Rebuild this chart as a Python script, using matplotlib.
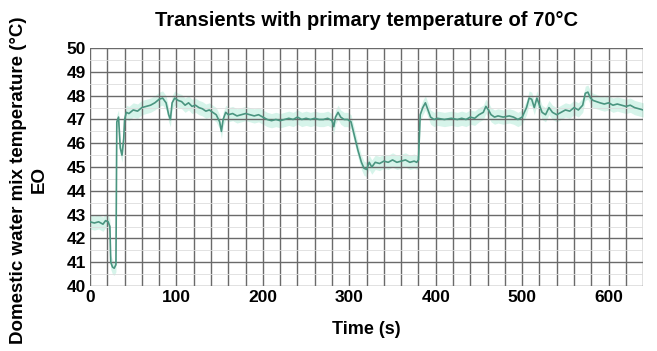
import matplotlib.pyplot as plt
import numpy as np

plt.rcParams['font.family'] = ['Liberation Sans', 'DejaVu Sans']
plt.rcParams['font.weight'] = 'bold'

# time (s) and mixed water temperature (°C)
time_s = [0, 5, 10, 15, 18, 21, 23, 24, 26, 28, 30, 31, 33, 35, 37, 39, 40, 42, 45,
          50, 55, 60, 65, 70, 75, 80, 84, 88, 91, 93, 95, 98, 102, 106, 110, 114,
          118, 122, 126, 130, 134, 138, 142, 146, 150, 152, 154, 157, 160, 165,
          170, 175, 180, 185, 190, 195, 200, 205, 210, 215, 220, 225, 230, 235,
          240, 245, 250, 255, 260, 265, 270, 275, 280, 282, 284, 287, 290, 294,
          298, 302, 306, 310, 314, 317, 320, 323, 326, 330, 335, 340, 345, 350,
          355, 360, 365, 370, 375, 378, 380, 382, 385, 388, 391, 394, 398, 402,
          410, 418, 425, 430, 435, 440, 445, 450, 455, 458, 461, 464, 468, 472,
          478, 485, 490, 495, 500, 505, 508, 511, 514, 517, 520, 523, 527, 531,
          535, 540, 545, 550, 555, 560, 565, 570, 573, 576, 579, 582, 586, 590,
          595, 600, 605, 610, 615, 620, 625, 630, 635, 640]
temp_c = [42.7, 42.65, 42.7, 42.6, 42.75, 42.7, 42.5, 41.0, 40.8, 40.75, 40.9, 46.9,
          47.1, 45.8, 45.5, 46.2, 47.0, 47.3, 47.25, 47.4, 47.35, 47.5, 47.55, 47.6,
          47.7, 47.85, 47.9, 47.7, 47.2, 47.0, 47.7, 47.9, 47.8, 47.75, 47.6, 47.7,
          47.55, 47.6, 47.5, 47.45, 47.35, 47.4, 47.3, 47.2, 46.9, 46.5, 47.0, 47.3,
          47.2, 47.25, 47.15, 47.2, 47.25, 47.2, 47.15, 47.2, 47.1, 47.0, 46.95,
          47.0, 46.95, 47.0, 47.05, 47.0, 47.1, 47.0, 47.05, 47.0, 47.05, 47.0,
          47.0, 47.05, 46.95, 46.7, 47.1, 47.3, 47.1, 47.0, 47.0, 46.9, 46.3, 45.7,
          45.2, 44.95, 44.9, 45.2, 45.0, 45.2, 45.15, 45.25, 45.2, 45.3, 45.2,
          45.25, 45.3, 45.2, 45.25, 45.2, 45.3, 47.2, 47.5, 47.7, 47.4, 47.1, 47.0,
          47.05, 47.0, 47.05, 47.0, 47.05, 47.0, 47.1, 47.05, 47.2, 47.3, 47.55,
          47.4, 47.2, 47.1, 47.15, 47.1, 47.15, 47.1, 47.0, 47.1, 47.5, 47.9, 47.85,
          47.5, 47.9, 47.6, 47.3, 47.2, 47.5, 47.3, 47.2, 47.3, 47.4, 47.35, 47.5,
          47.4, 47.6, 48.1, 48.15, 47.9, 47.8, 47.75, 47.7, 47.65, 47.7, 47.6,
          47.65, 47.6, 47.55, 47.6, 47.5, 47.45, 47.4]

x_ticks = [0, 100, 200, 300, 400, 500, 600]
y_ticks = [40, 41, 42, 43, 44, 45, 46, 47, 48, 49, 50]

t = np.array(time_s)
y = np.array(temp_c)

fig = plt.figure(figsize=(6.57, 3.51), dpi=100)
ax = fig.add_axes([0.137, 0.185, 0.842, 0.678])

# light halo around the trace
ax.fill_between(t, y - 0.3, y + 0.3, color='#d6f4ea', lw=0, zorder=1)
ax.plot(t, y, color='#4a9580', lw=1.2, zorder=3)

ax.set_xlim(0, 640)
ax.set_ylim(40, 50)
ax.set_xticks(x_ticks)
ax.set_yticks(y_ticks)
ax.set_xticks(np.arange(0, 641, 20), minor=True)
ax.set_yticks(np.arange(40, 50.1, 0.5), minor=True)
ax.tick_params(which='both', length=0, labelsize=12.5, pad=3)
ax.grid(which='major', color='#6a6a6a', lw=1.0, zorder=2)
ax.grid(which='minor', axis='x', color='#6a6a6a', lw=1.0, zorder=2)
ax.grid(which='minor', axis='y', color='#dddddd', lw=0.6, zorder=2)
for s in ax.spines.values():
    s.set_visible(False)
ax.set_axisbelow(False)

ax.set_title('Transients with primary temperature of 70°C', fontsize=14.5, fontweight='bold', pad=16)
ax.set_xlabel('Time (s)', fontsize=13, fontweight='bold', labelpad=11)
fig.text(29 / 657, 1 - 180 / 351, 'Domestic water mix temperature (°C)\nEO',
         rotation=90, ha='center', va='center', multialignment='center',
         fontsize=13.5, fontweight='bold', linespacing=1.3)

fig.savefig('out.png', dpi=100)
